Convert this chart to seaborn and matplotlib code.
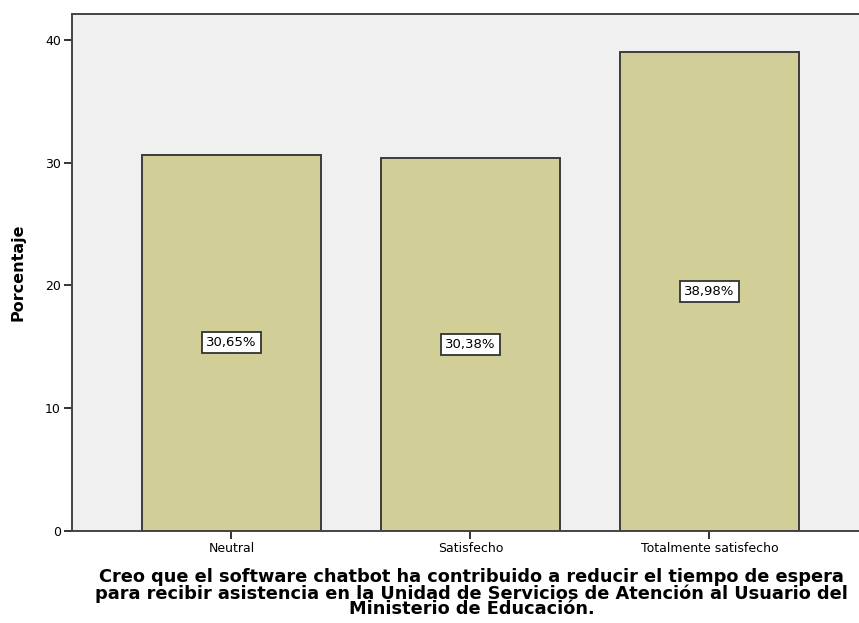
import pandas as pd
import seaborn as sns
import matplotlib.pyplot as plt

categorias = ['Neutral', 'Satisfecho', 'Totalmente satisfecho']
porcentajes = [30.65, 30.38, 38.98]
etiquetas = ['30,65%', '30,38%', '38,98%']
titulo = ('Creo que el software chatbot ha contribuido a reducir el tiempo de espera\n'
          'para recibir asistencia en la Unidad de Servicios de Atención al Usuario del\n'
          'Ministerio de Educación.')

df = pd.DataFrame({'categoria': categorias, 'porcentaje': porcentajes})

sns.set_theme(style='white')
plt.rcParams['font.family'] = ['DejaVu Sans']
plt.rcParams['text.color'] = 'black'
plt.rcParams['axes.labelcolor'] = 'black'
plt.rcParams['xtick.color'] = 'black'
plt.rcParams['ytick.color'] = 'black'

fig = plt.figure(figsize=(8.59, 6.23), dpi=100)
ax = fig.add_axes([72 / 859, 1 - 531 / 623, 1 - 72 / 859, (531 - 14) / 623])
ax.set_facecolor('#F0F0F0')

sns.barplot(data=df, x='categoria', y='porcentaje', color='#D2CE98',
            width=0.75, edgecolor='#3c3c3c', linewidth=1.4, saturation=1, ax=ax)

# etiquetas en el centro de cada barra
for i, (v, t) in enumerate(zip(porcentajes, etiquetas)):
    ax.text(i, v / 2, t, ha='center', va='center', fontsize=9.5, color='black',
            bbox=dict(boxstyle='square,pad=0.3', fc='white', ec='#333333', lw=1.3))

ax.set_xlim(-0.667, 2.626)
ax.set_ylim(0, 42.1)
ax.set_yticks([0, 10, 20, 30, 40])

for s in ['left', 'bottom', 'top']:
    ax.spines[s].set_color('#444444')
    ax.spines[s].set_linewidth(1.4)
ax.spines['right'].set_visible(False)

ax.tick_params(axis='both', which='both', direction='out', length=6, width=1.4,
               color='#333333', labelsize=9, pad=2, left=True, bottom=True)

ax.set_ylabel('Porcentaje', fontsize=11.5, fontweight='bold', labelpad=14)
ax.set_xlabel(titulo, fontsize=12.8, fontweight='bold', linespacing=0.85)
ax.xaxis.set_label_coords(0.508, -0.072)

plt.savefig('out.png', dpi=100)
